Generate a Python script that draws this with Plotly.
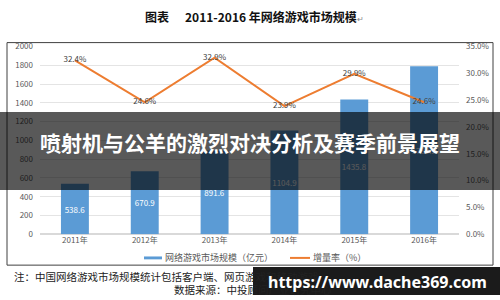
import plotly.graph_objects as go

years = ["2011年", "2012年", "2013年", "2014年", "2015年", "2016年"]
market_size = [538.6, 670.9, 891.6, 1104.9, 1435.8, 1789.2]
growth_rate = [0.324, 0.246, 0.329, 0.239, 0.299, 0.246]
left_ticks = [0, 200, 400, 600, 800, 1000, 1200, 1400, 1600, 1800, 2000]
right_ticks = [0, 0.05, 0.10, 0.15, 0.20, 0.25, 0.30, 0.35]

W, H = 500, 300
def px(x): return x / W
def py(y): return 1 - y / H

CJK = "Noto Sans CJK SC"
fig = go.Figure()
fig.add_trace(go.Bar(
    x=years, y=market_size, marker=dict(color="#5B9BD5", line=dict(width=0)),
    text=[f"{v:.1f}" for v in market_size], textposition="inside",
    insidetextanchor="middle", textangle=0, constraintext="none",
    textfont=dict(color="white", size=8, family=CJK), showlegend=False,
    name="网络游戏市场规模（亿元）"))
fig.add_trace(go.Scatter(
    x=years, y=growth_rate, yaxis="y2", mode="lines+text",
    line=dict(color="#ED7D31", width=2),
    text=[f"{v*100:.1f}%" for v in growth_rate], textposition="middle center",
    textfont=dict(color="#404040", size=8, family=CJK), showlegend=False,
    name="增量率（%）"))

tickfont = dict(color="#595959", size=8, family=CJK)
fig.update_layout(
    width=W, height=H, margin=dict(l=0, r=0, t=0, b=0),
    paper_bgcolor="white", plot_bgcolor="white", bargap=0.6,
    font=dict(family=CJK),
    xaxis=dict(domain=[px(40), px(459)], tickfont=tickfont, showgrid=False,
               showline=False, ticks="", ticklen=0),
    yaxis=dict(domain=[py(237), py(42)], range=[0, 2000], tickvals=left_ticks,
               tickfont=tickfont, showgrid=True, gridcolor="#E4E4E4",
               gridwidth=1, zeroline=True, zerolinecolor="#D9D9D9",
               showline=False, ticklabelstandoff=6),
    yaxis2=dict(overlaying="y", side="right", range=[0, 0.35],
                tickvals=right_ticks, ticktext=[f"{v*100:.1f}%" for v in right_ticks],
                tickfont=tickfont, showgrid=False, zeroline=False,
                showline=False, ticklabelstandoff=6),
)

shapes = []
annotations = []
# chart border
shapes.append(dict(type="rect", xref="paper", yref="paper", x0=px(7), x1=px(493),
                   y0=py(269), y1=py(38), line=dict(color="#404040", width=1),
                   layer="below"))
# custom legend
shapes.append(dict(type="rect", xref="paper", yref="paper", x0=px(144), x1=px(162),
                   y0=py(263), y1=py(260), fillcolor="#5B9BD5", line=dict(width=0)))
shapes.append(dict(type="line", xref="paper", yref="paper", x0=px(290), x1=px(310),
                   y0=py(261.5), y1=py(261.5), line=dict(color="#ED7D31", width=2)))
annotations.append(dict(text="网络游戏市场规模（亿元）", x=px(163), y=py(261.5),
                        xref="paper", yref="paper", xanchor="left", yanchor="middle",
                        showarrow=False, font=dict(size=9, color="#595959", family=CJK)))
annotations.append(dict(text="增量率（%）", x=px(311), y=py(261.5),
                        xref="paper", yref="paper", xanchor="left", yanchor="middle",
                        showarrow=False, font=dict(size=9, color="#595959", family=CJK)))
# title
annotations.append(dict(text="<b>图表</b>", x=px(143), y=py(11), xref="paper", yref="paper",
                        xanchor="left", yanchor="middle", showarrow=False,
                        font=dict(size=12, color="#111111", family=CJK)))
annotations.append(dict(text="<b>2011-2016 年网络游戏市场规模</b><span style='font-size:8px;color:#888'>↵</span>",
                        x=px(183), y=py(11), xref="paper", yref="paper",
                        xanchor="left", yanchor="middle", showarrow=False,
                        font=dict(size=12, color="#111111", family=CJK)))
# footnotes
annotations.append(dict(text="注：中国网络游戏市场规模统计包括客户端、网页游戏和移动游戏。",
                        x=px(12), y=py(281), xref="paper", yref="paper",
                        xanchor="left", yanchor="middle", showarrow=False,
                        font=dict(size=10.5, color="#222222", family=CJK)))
annotations.append(dict(text="数据来源：中投顾问产业研究中心",
                        x=px(172), y=py(294), xref="paper", yref="paper",
                        xanchor="left", yanchor="middle", showarrow=False,
                        font=dict(size=10.5, color="#222222", family=CJK)))
# banner overlay
shapes.append(dict(type="rect", xref="paper", yref="paper", x0=0, x1=1,
                   y0=py(191), y1=py(110), fillcolor="rgba(0,0,0,0.65)",
                   line=dict(width=0), layer="above"))
annotations.append(dict(text="<b>喷射机与公羊的激烈对决分析及赛季前景展望</b>",
                        x=0.5, y=py(141), xref="paper", yref="paper",
                        xanchor="center", yanchor="middle", showarrow=False,
                        font=dict(size=21, color="white", family=CJK)))
# watermark
shapes.append(dict(type="rect", xref="paper", yref="paper", x0=px(253), x1=1,
                   y0=0, y1=py(271), fillcolor="rgba(15,15,15,0.95)",
                   line=dict(width=0), layer="above"))
annotations.append(dict(text="<b>https://www.dache369.com</b>",
                        x=px(377), y=py(287), xref="paper", yref="paper",
                        xanchor="center", yanchor="middle", showarrow=False,
                        font=dict(size=16, color="white", family="Noto Sans")))

fig.update_layout(shapes=shapes, annotations=annotations)
fig.write_html("out.html")
